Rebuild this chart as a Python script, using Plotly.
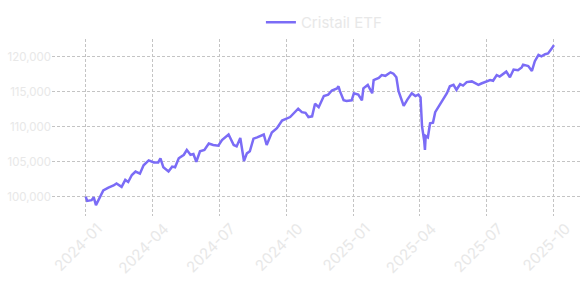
import plotly.graph_objects as go

dates = [
    "2024-01-01", "2024-01-03", "2024-01-09", "2024-01-12", "2024-01-15", "2024-01-21",
    "2024-01-25", "2024-02-01", "2024-02-08", "2024-02-12", "2024-02-19", "2024-02-24",
    "2024-02-28", "2024-03-04", "2024-03-09", "2024-03-15", "2024-03-20", "2024-03-27",
    "2024-04-03", "2024-04-09", "2024-04-12", "2024-04-16", "2024-04-23", "2024-04-28",
    "2024-05-02", "2024-05-07", "2024-05-14", "2024-05-18", "2024-05-23", "2024-05-27",
    "2024-05-31", "2024-06-05", "2024-06-11", "2024-06-17", "2024-06-23", "2024-06-30",
    "2024-07-05", "2024-07-14", "2024-07-21", "2024-07-25", "2024-07-30", "2024-08-04",
    "2024-08-08", "2024-08-12", "2024-08-17", "2024-08-22", "2024-08-31", "2024-09-04",
    "2024-09-11", "2024-09-18", "2024-09-25", "2024-10-06", "2024-10-11", "2024-10-17",
    "2024-10-22", "2024-10-27", "2024-10-31", "2024-11-05", "2024-11-09", "2024-11-14",
    "2024-11-21", "2024-11-27", "2024-12-02", "2024-12-09", "2024-12-11", "2024-12-13",
    "2024-12-18", "2024-12-22", "2024-12-29", "2025-01-01", "2025-01-07", "2025-01-12",
    "2025-01-14", "2025-01-20", "2025-01-26", "2025-01-28", "2025-02-04", "2025-02-08",
    "2025-02-13", "2025-02-20", "2025-02-24", "2025-02-28", "2025-03-03", "2025-03-10",
    "2025-03-15", "2025-03-21", "2025-03-26", "2025-03-30", "2025-04-02", "2025-04-04",
    "2025-04-07", "2025-04-08", "2025-04-09", "2025-04-12", "2025-04-15", "2025-04-19",
    "2025-04-22", "2025-04-26", "2025-05-01", "2025-05-08", "2025-05-12", "2025-05-17",
    "2025-05-21", "2025-05-26", "2025-05-30", "2025-06-04", "2025-06-11", "2025-06-15",
    "2025-06-20", "2025-06-24", "2025-06-29", "2025-07-06", "2025-07-10", "2025-07-15",
    "2025-07-19", "2025-07-24", "2025-07-28", "2025-08-02", "2025-08-07", "2025-08-13",
    "2025-08-18", "2025-08-20", "2025-08-27", "2025-09-01", "2025-09-05", "2025-09-10",
    "2025-09-14", "2025-09-19", "2025-09-23", "2025-09-28", "2025-10-01",
]

values = [
    100000, 99400, 99500, 99900, 98800, 100000,
    100900, 101300, 101600, 101900, 101400, 102400,
    102100, 103100, 103600, 103300, 104500, 105200,
    104900, 104900, 105500, 104200, 103600, 104300,
    104200, 105500, 106000, 106700, 106000, 106100,
    105000, 106500, 106700, 107600, 107400, 107300,
    108100, 108900, 107400, 107200, 108400, 105100,
    106200, 106500, 108300, 108500, 108900, 107400,
    109200, 109800, 110900, 111400, 111900, 112600,
    112100, 112000, 111400, 111500, 113300, 112800,
    114400, 114600, 115200, 115500, 115800, 115100,
    113800, 113700, 113800, 114800, 114600, 113800,
    115500, 116000, 114800, 116700, 117000, 117400,
    117300, 117800, 117600, 117100, 115100, 113000,
    113900, 114800, 114400, 114600, 114200, 110100,
    108000, 106700, 108700, 108500, 110500, 110600,
    112100, 112800, 113500, 114800, 115800, 116000,
    115300, 116100, 115900, 116400, 116500, 116300,
    116000, 116200, 116400, 116700, 116600, 117400,
    117200, 117600, 117900, 117100, 118200, 118100,
    118500, 118900, 118700, 118000, 119400, 120300,
    120100, 120400, 120500, 121200, 121700,
]

series_name = "Cristail ETF"
x_ticks = ["2024-01-01", "2024-04-01", "2024-07-01", "2024-10-01",
           "2025-01-01", "2025-04-01", "2025-07-01", "2025-10-01"]
x_tick_labels = ["2024-01", "2024-04", "2024-07", "2024-10",
                 "2025-01", "2025-04", "2025-07", "2025-10"]
y_ticks = [100000, 105000, 110000, 115000, 120000]

fig = go.Figure()
fig.add_trace(go.Scatter(
    x=dates, y=values, mode="lines", name=series_name,
    line=dict(color="#7b6cf6", width=2.5),
))

fig.update_layout(
    width=587, height=282,
    margin=dict(l=52, r=6, t=30, b=66),
    paper_bgcolor="white", plot_bgcolor="white",
    font=dict(family="Inter, sans-serif", color="#e8e8e8", size=12),
    showlegend=True,
    legend=dict(orientation="h", x=0.514, xanchor="center", y=1.0, yanchor="bottom",
                font=dict(size=15, color="#e8e8e8"), bgcolor="rgba(0,0,0,0)"),
    xaxis=dict(
        range=["2023-11-16", "2025-11-07"], automargin=False,
        tickvals=x_ticks, ticktext=x_tick_labels, tickangle=-45,
        ticklabelshift=12,
        showgrid=True, gridcolor="#c4c4c4", griddash="3px,2px", gridwidth=1,
        zeroline=False, showline=False,
        tickfont=dict(size=15, color="#e8e8e8"),
    ),
    yaxis=dict(
        range=[97235, 122570], automargin=False,
        tickvals=y_ticks, tickformat=",d",
        showgrid=True, gridcolor="#c4c4c4", griddash="3px,2px", gridwidth=1,
        zeroline=False, showline=False,
        tickfont=dict(size=11.5, color="#e8e8e8"),
    ),
)

fig.write_html("out.html")
